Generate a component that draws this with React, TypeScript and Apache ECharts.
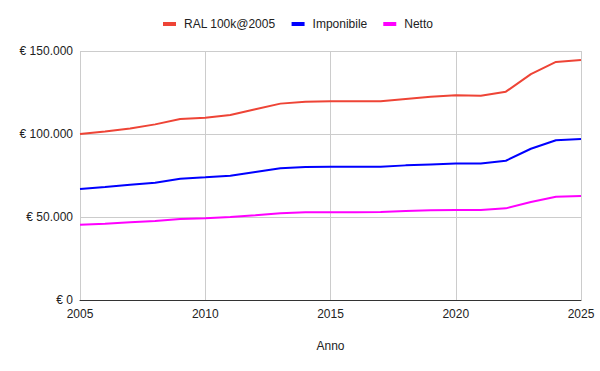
import React, { useEffect, useRef } from "react";
import * as echarts from "echarts";

const years = [2005, 2006, 2007, 2008, 2009, 2010, 2011, 2012, 2013, 2014, 2015, 2016, 2017, 2018, 2019, 2020, 2021, 2022, 2023, 2024, 2025];
const ral = [100000, 101500, 103300, 105800, 109000, 109800, 111400, 114900, 118300, 119500, 119700, 119800, 119700, 121100, 122500, 123300, 123100, 125500, 136100, 143400, 144600];
const imponibile = [66900, 68000, 69400, 70700, 73100, 73900, 74900, 77100, 79300, 80100, 80300, 80300, 80300, 81100, 81700, 82300, 82300, 83900, 91100, 96200, 97000];
const netto = [45400, 46000, 46800, 47600, 48800, 49200, 50000, 51000, 52200, 52800, 52800, 52800, 53000, 53600, 54000, 54200, 54200, 55200, 59000, 62200, 62700];
const seriesNames = ["RAL 100k@2005", "Imponibile", "Netto"];
const colors = ["#ee4436", "#0000ff", "#ff00ff"];

const fmt = (v: number) => "€ " + String(Math.round(v)).replace(/\B(?=(\d{3})+(?!\d))/g, ".");

export default function App() {
  const ref = useRef<HTMLDivElement>(null);
  useEffect(() => {
    if (!ref.current) return;
    const chart = echarts.init(ref.current, undefined, { renderer: "svg" });
    const data = [ral, imponibile, netto];
    chart.setOption({
      animation: false,
      textStyle: { fontFamily: "Liberation Sans, Arial, sans-serif" },
      legend: {
        top: 18,
        left: 163,
        padding: 0,
        icon: "rect",
        itemWidth: 13,
        itemHeight: 4,
        itemGap: 16,
        textStyle: { fontSize: 12, color: "#222", padding: [0, 0, 0, 3] },
        data: seriesNames,
      },
      grid: { left: 80, right: 19, top: 51, bottom: 71 },
      xAxis: {
        type: "value",
        min: 2005,
        max: 2025,
        interval: 5,
        name: "Anno",
        nameLocation: "middle",
        nameGap: 40,
        nameTextStyle: { fontSize: 12, color: "#222" },
        axisLine: { show: true, lineStyle: { color: "#333", width: 1 } },
        axisTick: { show: false },
        axisLabel: { fontSize: 12, color: "#222", margin: 8, formatter: (v: number) => String(v) },
        splitLine: { show: true, lineStyle: { color: "#cccccc" } },
      },
      yAxis: {
        type: "value",
        min: 0,
        max: 150000,
        interval: 50000,
        axisLine: { show: false },
        axisTick: { show: false },
        axisLabel: { fontSize: 12, color: "#222", margin: 7, formatter: fmt },
        splitLine: { show: true, lineStyle: { color: "#cccccc" } },
      },
      series: seriesNames.map((name, i) => ({
        name,
        type: "line",
        showSymbol: false,
        symbol: "none",
        lineStyle: { width: 2, color: colors[i] },
        itemStyle: { color: colors[i] },
        data: years.map((y, j) => [y, data[i][j]]),
      })),
    });
    return () => chart.dispose();
  }, []);
  return <div ref={ref} style={{ width: 600, height: 371, position: "absolute", left: 0, top: 0 }} />;
}
